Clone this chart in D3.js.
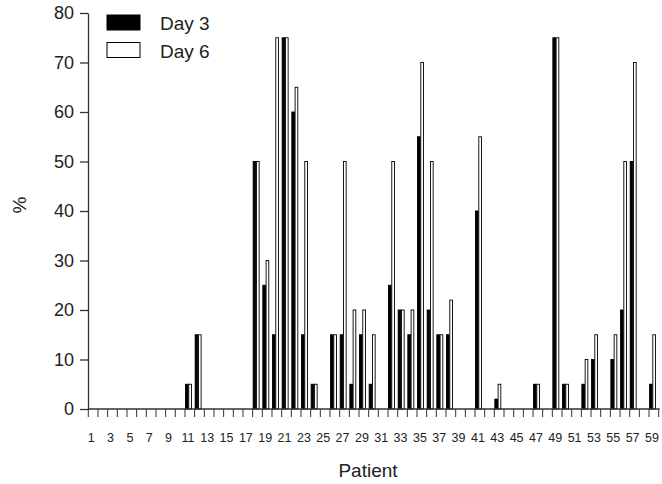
<html>
<head>
  <script src="https://d3js.org/d3.v7.min.js"></script>
  <title>Day 3 / Day 6 by patient</title>
  <style>
    body { margin: 0; background: #fff; }
    text { font-family: "Liberation Sans", Arial, sans-serif; fill: #222; }
  </style>
</head>
<body>
<div id="chart"></div>
<script type="text/javascript">

// patients 1..59, values in %
var patients = d3.range(1, 60);
var day3 = [0,0,0,0,0,0,0,0,0,0, 5,15,0,0,0,0,0,50,25,15, 75,60,15,5,0,15,15,5,15,5,
            0,25,20,15,55,20,15,15,0,0, 40,0,2,0,0,0,5,0,75,5, 0,5,10,0,10,20,50,0,5];
var day6 = [0,0,0,0,0,0,0,0,0,0, 5,15,0,0,0,0,0,50,30,75, 75,65,50,5,0,15,50,20,20,15,
            0,50,20,20,70,50,15,22,0,0, 55,0,5,0,0,0,5,0,75,5, 0,10,15,0,15,50,70,0,15];
var yTicks = [0, 10, 20, 30, 40, 50, 60, 70, 80];
var series = ["Day 3", "Day 6"];

var width = 662, height = 484;
var svg = d3.select("#chart").append("svg")
    .attr("width", width)
    .attr("height", height);

var x = d3.scaleBand().domain(patients).range([88.3, 658.7]).padding(0);
var y = d3.scaleLinear().domain([0, 80]).range([409, 13]);

// two thin bars sit in the left part of each band
var xs = d3.scaleBand().domain(series).range([0, x.bandwidth() * 0.68]);

var rows = patients.map(function (p, i) { return {p: p, v: [day3[i], day6[i]]}; });

var groups = svg.append("g").selectAll("g")
    .data(rows)
  .enter().append("g")
    .attr("transform", function (d) { return "translate(" + x(d.p) + ",0)"; });

groups.selectAll("rect")
    .data(function (d) { return d.v.map(function (v, k) { return {s: series[k], v: v}; }); })
  .enter().append("rect")
    .filter(function (d) { return d.v > 0; })
    .attr("x", function (d) { return xs(d.s) + 0.5; })
    .attr("y", function (d) { return y(d.v); })
    .attr("width", xs.bandwidth() - 0.6)
    .attr("height", function (d) { return y(0) - y(d.v); })
    .attr("fill", function (d) { return d.s === "Day 3" ? "#000" : "#fff"; })
    .attr("stroke", "#000")
    .attr("stroke-width", 0.9);

// y axis
var yAxis = svg.append("g")
    .attr("transform", "translate(88,0)")
    .call(d3.axisLeft(y).tickValues(yTicks).tickSize(8).tickPadding(6).tickSizeOuter(0));
yAxis.selectAll("text").style("font-size", "18px").attr("fill", "#222");
yAxis.selectAll("line, path").attr("stroke", "#333").attr("stroke-width", 1.3);

// x axis: baseline, ticks on band edges, labels for odd patients
var xg = svg.append("g");
xg.append("line")
    .attr("x1", 88).attr("x2", x.range()[1] + 1)
    .attr("y1", y(0)).attr("y2", y(0))
    .attr("stroke", "#333").attr("stroke-width", 1.3);
xg.selectAll("line.tick")
    .data(patients.concat([60]))
  .enter().append("line")
    .attr("class", "tick")
    .attr("x1", function (p) { return p === 60 ? x.range()[1] : x(p); })
    .attr("x2", function (p) { return p === 60 ? x.range()[1] : x(p); })
    .attr("y1", y(0)).attr("y2", y(0) + 8)
    .attr("stroke", "#333").attr("stroke-width", 1);
xg.selectAll("text")
    .data(patients.filter(function (p) { return p % 2 === 1; }))
  .enter().append("text")
    .attr("x", function (p) { return x(p) + x.bandwidth() * 0.3; })
    .attr("y", 442)
    .attr("text-anchor", "middle")
    .style("font-size", "12.5px")
    .text(function (p) { return p; });

// axis titles
svg.append("text")
    .attr("x", 368).attr("y", 477)
    .attr("text-anchor", "middle")
    .style("font-size", "19px")
    .text("Patient");
svg.append("text")
    .attr("transform", "translate(26,205) rotate(-90)")
    .attr("text-anchor", "middle")
    .style("font-size", "19px")
    .text("%");

// legend
var legend = svg.append("g").selectAll("g")
    .data(series)
  .enter().append("g")
    .attr("transform", function (d, i) { return "translate(107," + (15 + i * 27.5) + ")"; });
legend.append("rect")
    .attr("width", 33).attr("height", 15)
    .attr("fill", function (d) { return d === "Day 3" ? "#000" : "#fff"; })
    .attr("stroke", "#000").attr("stroke-width", 1);
legend.append("text")
    .attr("x", 53).attr("y", 15)
    .style("font-size", "19px")
    .text(function (d) { return d; });

</script>
</body>
</html>
